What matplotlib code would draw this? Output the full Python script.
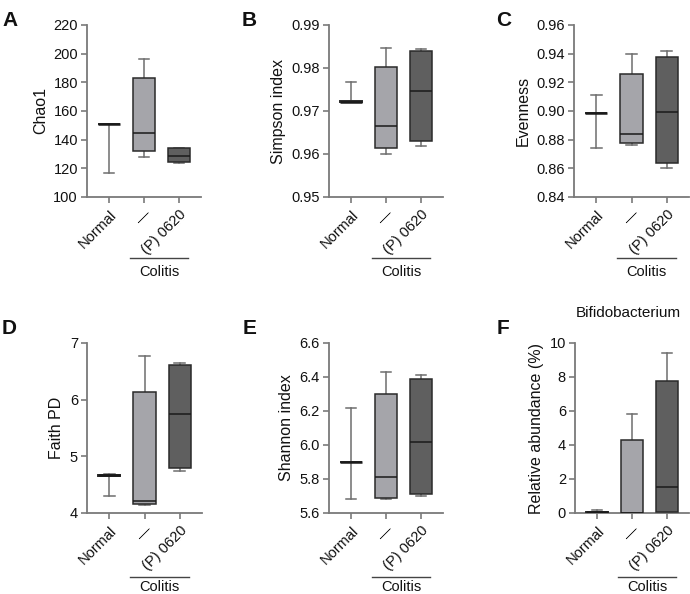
import matplotlib
matplotlib.use('Agg')
import matplotlib.pyplot as plt
from matplotlib.ticker import FormatStrFormatter, MultipleLocator

plt.rcParams['font.family'] = ['Liberation Sans', 'DejaVu Sans']

groups = ['Normal', '\u2014', '(P) 0620']
box_colors = ['white', '#a5a5aa', '#5f5f5f']

# Panel A: Chao1  (whislo, q1, med, q3, whishi) per group
chao1_lo = [117, 128, 124]
chao1_q1 = [151, 132, 124.5]
chao1_med = [151, 144.5, 128.5]
chao1_q3 = [151, 183, 134]
chao1_hi = [151, 196, 134.5]

# Panel B: Simpson index
simp_lo = [0.9720, 0.9600, 0.9619]
simp_q1 = [0.9720, 0.9614, 0.9630]
simp_med = [0.9722, 0.9666, 0.9747]
simp_q3 = [0.9723, 0.9802, 0.9840]
simp_hi = [0.9768, 0.9847, 0.9844]

# Panel C: Evenness
even_lo = [0.874, 0.8765, 0.860]
even_q1 = [0.8985, 0.878, 0.8635]
even_med = [0.8985, 0.884, 0.899]
even_q3 = [0.8985, 0.926, 0.9375]
even_hi = [0.911, 0.9395, 0.942]

# Panel D: Faith PD
faith_lo = [4.30, 4.15, 4.75]
faith_q1 = [4.655, 4.16, 4.80]
faith_med = [4.665, 4.22, 5.74]
faith_q3 = [4.67, 6.14, 6.62]
faith_hi = [4.68, 6.77, 6.65]

# Panel E: Shannon index
shan_lo = [5.685, 5.68, 5.70]
shan_q1 = [5.90, 5.69, 5.71]
shan_med = [5.90, 5.81, 6.02]
shan_q3 = [5.90, 6.30, 6.39]
shan_hi = [6.215, 6.43, 6.41]

# Panel F: Bifidobacterium relative abundance (%)
bifi_lo = [0.0, 0.0, 0.05]
bifi_q1 = [0.02, 0.0, 0.05]
bifi_med = [0.03, 0.02, 1.52]
bifi_q3 = [0.05, 4.32, 7.75]
bifi_hi = [0.15, 5.80, 9.40]

W, H = 690, 594
fig = plt.figure(figsize=(W / 100, H / 100), dpi=100)

def rect(x0, x1, ytop, ybot):
    return [x0 / W, 1 - ybot / H, (x1 - x0) / W, (ybot - ytop) / H]

panels = [
    dict(letter='A', r=rect(87, 201, 25, 197), lpos=(2, 20), ylabel='Chao1',
         data=(chao1_lo, chao1_q1, chao1_med, chao1_q3, chao1_hi),
         ylim=(100, 220), step=20, fmt='%d'),
    dict(letter='B', r=rect(329, 443, 25, 197), lpos=(242, 20), ylabel='Simpson index',
         data=(simp_lo, simp_q1, simp_med, simp_q3, simp_hi),
         ylim=(0.95, 0.99), step=0.01, fmt='%.2f'),
    dict(letter='C', r=rect(574, 689, 25, 197), lpos=(496, 20), ylabel='Evenness',
         data=(even_lo, even_q1, even_med, even_q3, even_hi),
         ylim=(0.84, 0.96), step=0.02, fmt='%.2f'),
    dict(letter='D', r=rect(87, 202, 343, 513), lpos=(2, 329), ylabel='Faith PD',
         data=(faith_lo, faith_q1, faith_med, faith_q3, faith_hi),
         ylim=(4, 7), step=1, fmt='%d'),
    dict(letter='E', r=rect(329, 443, 343, 513), lpos=(243, 328), ylabel='Shannon index',
         data=(shan_lo, shan_q1, shan_med, shan_q3, shan_hi),
         ylim=(5.6, 6.6), step=0.2, fmt='%.1f'),
    dict(letter='F', r=rect(575, 689, 343, 513), lpos=(497, 329), ylabel='Relative abundance (%)',
         data=(bifi_lo, bifi_q1, bifi_med, bifi_q3, bifi_hi),
         ylim=(0, 10), step=2, fmt='%d', title='Bifidobacterium'),
]

axis_gray = '#7a7a7a'
for p in panels:
    ax = fig.add_axes(p['r'])
    lo, q1, med, q3, hi = p['data']
    stats = [dict(whislo=lo[i], q1=q1[i], med=med[i], q3=q3[i], whishi=hi[i], fliers=[])
             for i in range(3)]
    bp = ax.bxp(stats, positions=[0, 1, 2], widths=0.63, patch_artist=True,
                showfliers=False, capwidths=0.31,
                boxprops=dict(edgecolor='#2a2a2a', linewidth=1.1),
                whiskerprops=dict(color='#6e6e6e', linewidth=1.1),
                capprops=dict(color='#6e6e6e', linewidth=1.1),
                medianprops=dict(color='#1a1a1a', linewidth=1.1))
    for i, b in enumerate(bp['boxes']):
        b.set_facecolor(box_colors[i])
        b.set_zorder(3)
    bp['medians'][0].set_linewidth(1.8)
    bp['boxes'][0].set_linewidth(1.4)
    for m in bp['medians']:
        m.set_zorder(4)
    ax.set_xlim(-0.63, 2.63)
    ax.set_ylim(*p['ylim'])
    ax.yaxis.set_major_locator(MultipleLocator(p['step']))
    ax.yaxis.set_major_formatter(FormatStrFormatter(p['fmt']))
    ax.set_xticks([0, 1, 2])
    ax.set_xticklabels(groups, rotation=45, ha='right', rotation_mode='anchor')
    for s in ['top', 'right']:
        ax.spines[s].set_visible(False)
    for s in ['left', 'bottom']:
        ax.spines[s].set_color(axis_gray)
        ax.spines[s].set_linewidth(1.3)
    ax.tick_params(axis='both', direction='out', length=4.5, width=1.2, color=axis_gray,
                   labelsize=10.5, labelcolor='#111111')
    ax.tick_params(axis='y', pad=2)
    ax.tick_params(axis='x', pad=3)
    ax.set_ylabel(p['ylabel'], fontsize=11.5, labelpad=4, color='#111111')
    # Colitis bracket
    axh = p['r'][3] * H
    ybr = -61 / axh if p['letter'] in 'ABC' else -64 / axh
    ytx = -75 / axh if p['letter'] in 'ABC' else -74 / axh
    ax.plot([0.6, 2.26], [ybr, ybr], transform=ax.get_xaxis_transform(),
            color='#444444', lw=1.0, clip_on=False)
    ax.text(1.43, ytx, 'Colitis', transform=ax.get_xaxis_transform(),
            ha='center', va='center', fontsize=10.5, color='#111111')
    if 'title' in p:
        ax.text(0.47, 1 + 30 / axh, p['title'], transform=ax.transAxes,
                ha='center', va='center', fontsize=11, color='#111111')
    fig.text(p['lpos'][0] / W, 1 - p['lpos'][1] / H, p['letter'], fontsize=15,
             fontweight='bold', ha='left', va='center', color='#111111')

fig.savefig('out.png', dpi=100)
